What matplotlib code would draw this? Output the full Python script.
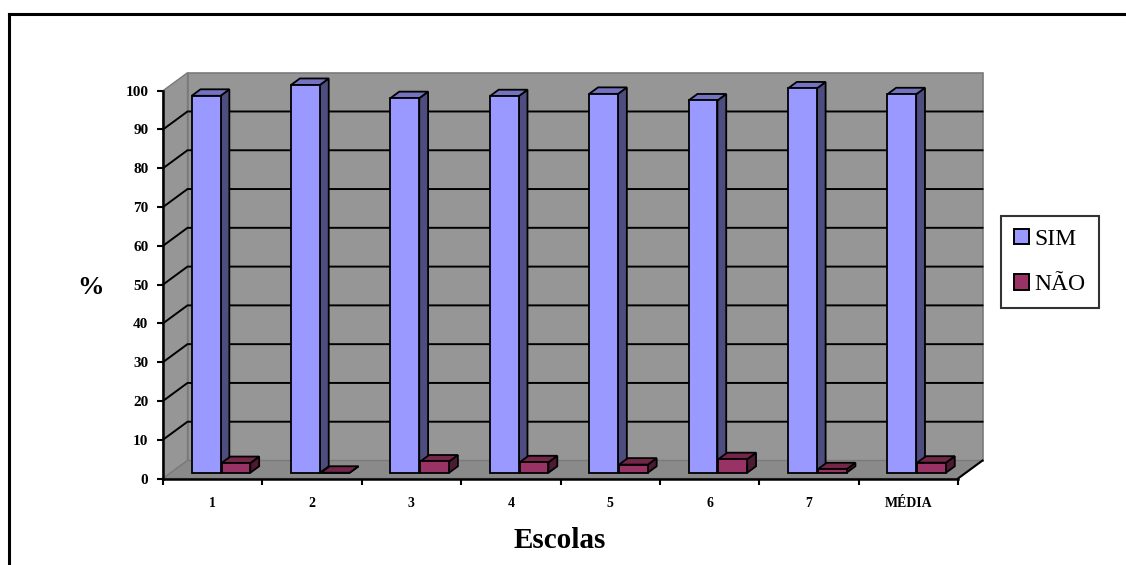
import matplotlib
matplotlib.use("Agg")
import matplotlib.pyplot as plt
from matplotlib.patches import Polygon, Patch
from matplotlib.lines import Line2D

# Data
categories = ["1", "2", "3", "4", "5", "6", "7", "MÉDIA"]
sim = [97.2, 100.0, 96.6, 97.1, 97.7, 96.0, 99.1, 97.6]
nao = [2.5, 0.0, 2.9, 2.7, 2.1, 3.5, 0.9, 2.6]
yticks = list(range(0, 101, 10))

SERIF = ["Liberation Serif", "DejaVu Serif"]

W, H = 1126, 565
fig = plt.figure(figsize=(W / 100, H / 100), dpi=100)
fig.patch.set_facecolor("white")

ax = fig.add_axes([163 / W, 1 - 478.5 / H, (958 - 163) / W, (478.5 - 90.7) / H])
ax.set_xlim(0, len(categories))
ax.set_ylim(0, 100)
ax.patch.set_visible(False)

# depth of the box, in data units
DX = 24.5 / ((958 - 163) / len(categories))
DY = 18.0 / ((478.5 - 90.7) / 100)

wall_c = "#969696"
floor_c = "#8a8a8a"
edge_c = "#7a7a7a"

def poly(pts, fc, ec, lw, z):
    p = Polygon(pts, closed=True, facecolor=fc, edgecolor=ec, linewidth=lw,
                zorder=z, clip_on=False, joinstyle="miter")
    ax.add_patch(p)

n = len(categories)
# walls and floor
poly([(0, 0), (DX, DY), (DX, 100 + DY), (0, 100)], wall_c, edge_c, 1.0, 1)
poly([(DX, DY), (n + DX, DY), (n + DX, 100 + DY), (DX, 100 + DY)], wall_c, edge_c, 1.2, 1)
poly([(0, 0), (n, 0), (n + DX, DY), (DX, DY)], floor_c, edge_c, 1.0, 1)
ax.plot([n, n + DX], [0, DY], color="black", lw=1.5, zorder=2, clip_on=False)

# gridlines on the side and back walls
for v in yticks[1:-1]:
    ax.plot([0, DX, n + DX], [v, v + DY, v + DY], color="black", lw=1.4,
            zorder=2, clip_on=False, solid_joinstyle="miter")

# 3D bars
f0, f1 = 0.32, 0.68
bw = 0.29
sim_cols = ("#9999ff", "#4d4d80", "#7373bf")
nao_cols = ("#993366", "#4d1a33", "#732648")

def bar3d(x0, v, cols, z):
    x1 = x0 + bw
    ax0, ay0 = DX * f0, DY * f0
    bx0, by0 = DX * f1, DY * f1
    front, side, top = cols
    # side face
    poly([(x1 + ax0, ay0), (x1 + bx0, by0), (x1 + bx0, v + by0), (x1 + ax0, v + ay0)],
         side, "black", 1.3, z)
    # top face
    poly([(x0 + ax0, v + ay0), (x0 + bx0, v + by0), (x1 + bx0, v + by0), (x1 + ax0, v + ay0)],
         top, "black", 1.3, z)
    # front face
    poly([(x0 + ax0, ay0), (x1 + ax0, ay0), (x1 + ax0, v + ay0), (x0 + ax0, v + ay0)],
         front, "black", 1.3, z)

z = 3
for i in range(n):
    c = i + 0.5
    bar3d(c - bw, sim[i], sim_cols, z)
    z += 1
    bar3d(c + 0.01, nao[i], nao_cols, z)
    z += 1

# axes
for s in ("top", "right"):
    ax.spines[s].set_visible(False)
for s in ("left", "bottom"):
    ax.spines[s].set_color("black")
    ax.spines[s].set_linewidth(1.8)
    ax.spines[s].set_zorder(50)

ax.set_yticks(yticks)
ax.set_yticklabels([str(t) for t in yticks])
ax.tick_params(axis="y", direction="out", length=4.5, width=1.5, pad=6,
               labelsize=11)
ax.set_xticks(range(n + 1))
ax.set_xticklabels([""] * (n + 1))
ax.set_xticks([i + 0.5 for i in range(n)], minor=True)
ax.set_xticklabels(categories, minor=True)
ax.tick_params(axis="x", which="major", direction="out", length=4.5, width=1.5)
ax.tick_params(axis="x", which="minor", length=0, pad=13, labelsize=10)
for lab in ax.get_yticklabels() + ax.get_xticklabels(minor=True):
    lab.set_fontfamily(SERIF)
    lab.set_fontweight("bold")

fig.text(91 / W, 1 - 287 / H, "%", fontsize=19, fontweight="bold",
         family=SERIF, ha="center", va="center")
fig.text(560 / W, 1 - 540 / H, "Escolas", fontsize=21, fontweight="bold",
         family=SERIF, ha="center", va="center")

# legend
handles = [Patch(facecolor=sim_cols[0], edgecolor="black", linewidth=1.4),
           Patch(facecolor=nao_cols[0], edgecolor="black", linewidth=1.4)]
leg = fig.legend(handles, ["SIM", "NÃO"], loc="center",
                 bbox_to_anchor=(1050 / W, 1 - 262 / H),
                 prop={"family": SERIF, "size": 17},
                 frameon=True, fancybox=False, shadow=False,
                 handlelength=0.62, handleheight=0.62, handletextpad=0.25,
                 labelspacing=1.05, borderpad=0.55, borderaxespad=0)
leg.get_frame().set_edgecolor("black")
leg.get_frame().set_linewidth(1.5)

# outer frame (runs off the right and bottom edges)
fig.add_artist(Line2D([9 / W, 9 / W], [0, 1 - 14 / H], color="black", lw=2.2,
                      transform=fig.transFigure))
fig.add_artist(Line2D([9 / W, 1], [1 - 14 / H, 1 - 14 / H], color="black", lw=2.2,
                      transform=fig.transFigure))

fig.savefig("out.png", dpi=100)
